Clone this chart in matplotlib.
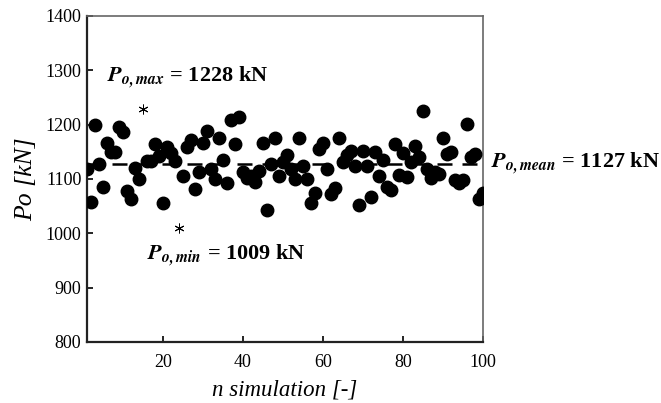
import numpy as np
import matplotlib
matplotlib.use('Agg')
from matplotlib import pyplot as plt

plt.rcParams['font.family'] = 'Liberation Serif'
plt.rcParams['mathtext.fontset'] = 'stix'

# simulated Po values [kN], n = 1..100
po = [1118, 1058, 1199, 1128, 1085, 1167, 1150, 1150, 1196, 1186,
      1077, 1064, 1121, 1100, 1228, 1133, 1133, 1164, 1142, 1056,
      1158, 1147, 1133, 1009, 1105, 1158, 1172, 1082, 1113, 1166,
      1188, 1118, 1100, 1175, 1135, 1093, 1209, 1164, 1214, 1112,
      1101, 1105, 1095, 1115, 1166, 1043, 1128, 1176, 1105, 1132,
      1144, 1118, 1100, 1176, 1124, 1100, 1055, 1075, 1155, 1166,
      1118, 1072, 1083, 1176, 1132, 1144, 1152, 1123, 1052, 1152,
      1123, 1066, 1150, 1105, 1135, 1085, 1080, 1164, 1107, 1147,
      1104, 1132, 1161, 1141, 1225, 1118, 1102, 1112, 1110, 1175,
      1146, 1150, 1098, 1092, 1098, 1202, 1141, 1146, 1063, 1074]
n_sim = np.arange(1, len(po) + 1)
po = np.array(po)

po_mean = 1127
i_max = 14   # index of max (plotted as star)
i_min = 23   # index of min (plotted as star)

x_ticks = [20, 40, 60, 80, 100]
y_ticks = [800, 900, 1000, 1100, 1200, 1300, 1400]

fig = plt.figure(figsize=(6.61, 4.03), dpi=100)
ax = fig.add_axes([0.1316, 0.1514, 0.5991, 0.8089])

mask = np.ones(len(po), dtype=bool)
mask[[i_max, i_min]] = False
ax.plot(n_sim[mask], po[mask], 'o', color='black', markersize=9, zorder=3)
ax.plot(n_sim[[i_max, i_min]], po[[i_max, i_min]], marker=(6, 2, 0), linestyle='none',
        color='black', markersize=7, markeredgewidth=0.7, zorder=3)

# mean line
ax.plot([n_sim[0], n_sim[-1]], [po_mean, po_mean], '--', color='black', linewidth=1.8,
        dashes=(6, 4), zorder=2)

ax.set_xlim(1, 100)
ax.set_ylim(800, 1400)
ax.set_xticks(x_ticks)
ax.set_yticks(y_ticks)
ax.tick_params(direction='in', length=4, width=1.2, labelsize=13, colors='black')
ax.tick_params(axis='x', pad=9)
ax.tick_params(axis='y', pad=4)
for s in ['left', 'bottom']:
    ax.spines[s].set_linewidth(1.6)
    ax.spines[s].set_color('#222222')
for s in ['top', 'right']:
    ax.spines[s].set_linewidth(1.2)
    ax.spines[s].set_color('#666666')

ax.set_xlabel('n simulation [-]', fontsize=16.5, style='italic', labelpad=6)
ax.set_ylabel('Po [kN]', fontsize=18.5, style='italic', labelpad=6)

# annotations
ax.text(6, 1286, r'$\mathbfit{P}_{\mathbfit{o,max}}$' + ' = %d kN' % po[i_max],
        fontsize=16, fontweight='bold', va='center', ha='left')
ax.text(16, 958, r'$\mathbfit{P}_{\mathbfit{o,min}}$' + ' = %d kN' % po[i_min],
        fontsize=16, fontweight='bold', va='center', ha='left')
ax.text(102, po_mean, r'$\mathbfit{P}_{\mathbfit{o,mean}}$' + ' = %d kN' % po_mean,
        fontsize=16, fontweight='bold', va='center', ha='left', clip_on=False)

fig.savefig('out.png', dpi=100)
plt.close()
